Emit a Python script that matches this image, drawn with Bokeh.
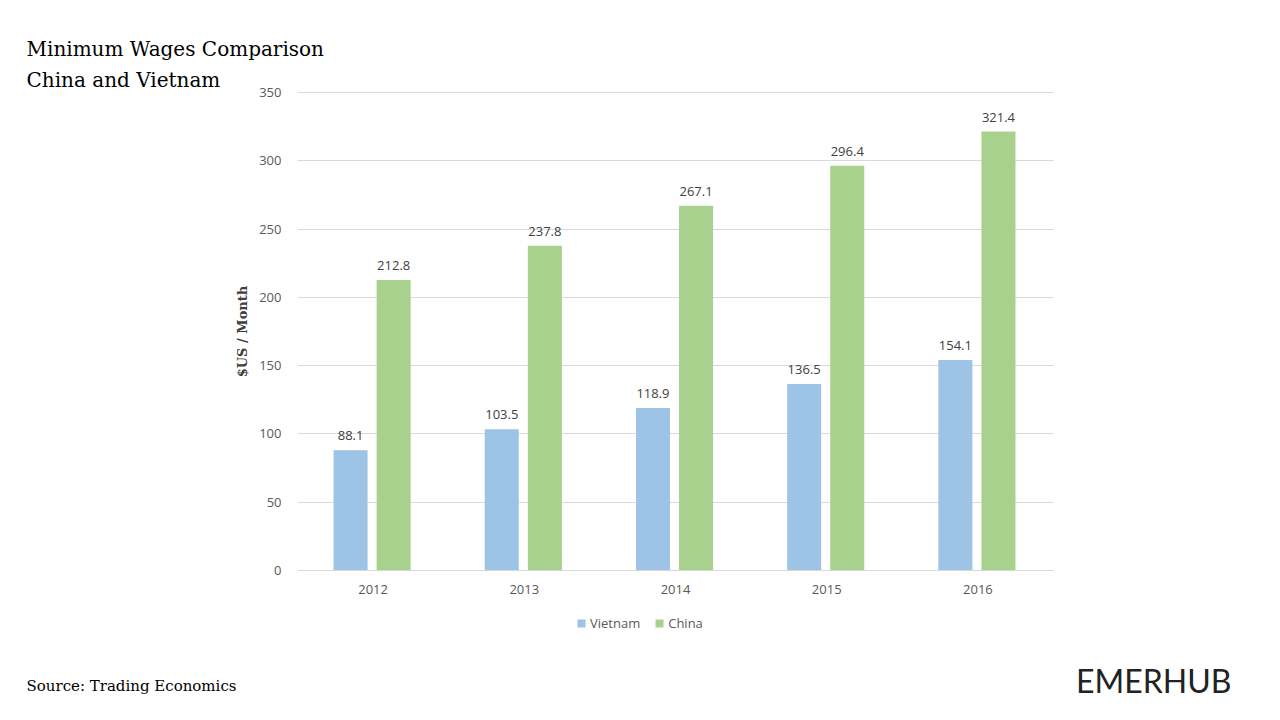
from bokeh.plotting import figure
from bokeh.models import (ColumnDataSource, Range1d, Label, Legend, LegendItem,
                          LinearAxis, FixedTicker, Grid)
from bokeh.core.properties import value
from bokeh.embed import file_html
from bokeh.resources import INLINE

years = ["2012", "2013", "2014", "2015", "2016"]
vietnam = [88.1, 103.5, 118.9, 136.5, 154.1]
china = [212.8, 237.8, 267.1, 296.4, 321.4]
y_ticks = [0, 50, 100, 150, 200, 250, 300, 350]
series_names = ["Vietnam", "China"]
title_lines = ["Minimum Wages Comparison", "China and Vietnam"]
y_label = "$US / Month"
source_text = "Source: Trading Economics"
brand = "EMERHUB"

VN_COLOR = "#9DC3E6"
CN_COLOR = "#A9D18E"
SANS = "Open Sans"
SERIF = "DejaVu Serif"
TICK_COLOR = "#595959"

# canvas geometry: the frame covers the whole canvas, plot area placed via ranges
W, H = 1264, 704
PL, PR, PT, PB = 297, 1053, 92, 570      # plot-area edges on canvas
n = len(years)
ymax = y_ticks[-1]
xs = (PR - PL) / n                      # px per category
ys = (PB - PT) / ymax                   # px per unit
x_range = Range1d(-PL / xs, (W - PL) / xs)
y_range = Range1d(-(H - PB) / ys, PB / ys)

VN_OFF, CN_OFF = -0.149, 0.136
pos = [i + 0.5 for i in range(n)]
src = ColumnDataSource(dict(
    xv=[x + VN_OFF for x in pos], xc=[x + CN_OFF for x in pos],
    vietnam=vietnam, china=china,
    vn_lab=[f"{v:.1f}" for v in vietnam],
    cn_lab=[f"{v:.1f}" for v in china],
))

p = figure(width=W, height=H, x_range=x_range, y_range=y_range,
           output_backend="svg", toolbar_location=None,
           x_axis_location=None, y_axis_location=None,
           min_border=0, min_border_left=0, min_border_right=0,
           min_border_top=0, min_border_bottom=0)
p.outline_line_color = None
p.background_fill_color = "white"
p.border_fill_color = "white"
p.xgrid.visible = False
p.ygrid.visible = False

# y axis (fixed at the plot-area's left edge)
yax = LinearAxis(fixed_location=0, bounds=(0, ymax), ticker=FixedTicker(ticks=y_ticks))
yax.axis_line_color = None
yax.major_tick_line_color = None
yax.minor_tick_line_color = None
yax.major_tick_out = 0
yax.major_tick_in = 0
yax.major_label_standoff = 16
yax.major_label_text_font = SANS
yax.major_label_text_font_size = "13px"
yax.major_label_text_color = TICK_COLOR
p.add_layout(yax, "left")

# x axis (fixed at zero)
xax = LinearAxis(fixed_location=0, bounds=(0, n), ticker=FixedTicker(ticks=pos),
                 major_label_overrides={x: y for x, y in zip(pos, years)})
xax.axis_line_color = "#D9D9D9"
xax.major_tick_line_color = None
xax.minor_tick_line_color = None
xax.major_tick_out = 0
xax.major_tick_in = 0
xax.major_label_standoff = 14
xax.major_label_text_font = SANS
xax.major_label_text_font_size = "13px"
xax.major_label_text_color = TICK_COLOR
p.add_layout(xax, "below")

# horizontal gridlines limited to the plot area
if "cross_bounds" in Grid.properties():
    g = Grid(dimension=1, ticker=FixedTicker(ticks=y_ticks[1:]), bounds=(0, ymax),
             cross_bounds=(0, n), grid_line_color="#D9D9D9", grid_line_width=1)
    p.add_layout(g)
else:
    p.segment(x0=[0] * (len(y_ticks) - 1), x1=[n] * (len(y_ticks) - 1),
              y0=y_ticks[1:], y1=y_ticks[1:], line_color="#D9D9D9", line_width=1)

r_vn = p.vbar(x="xv", top="vietnam", width=0.225, source=src,
              fill_color=VN_COLOR, line_color=None)
r_cn = p.vbar(x="xc", top="china", width=0.225, source=src,
              fill_color=CN_COLOR, line_color=None)

p.text(x="xv", y="vietnam", text="vn_lab", source=src,
       text_align="center", text_baseline="bottom", y_offset=-10,
       text_font=value(SANS), text_font_size="13px", text_color="#404040")
p.text(x="xc", y="china", text="cn_lab", source=src,
       text_align="center", text_baseline="bottom", y_offset=-10,
       text_font=value(SANS), text_font_size="13px", text_color="#404040")

# legend (location = bottom-left corner in screen px)
legend = Legend(items=[LegendItem(label=series_names[0], renderers=[r_vn]),
                       LegendItem(label=series_names[1], renderers=[r_cn])],
                orientation="horizontal", location=(576, H - 632),
                glyph_width=10, glyph_height=10, label_standoff=4, spacing=14,
                label_text_font=SANS, label_text_font_size="13px",
                label_text_color=TICK_COLOR,
                border_line_color=None, background_fill_alpha=0, padding=0, margin=0)
p.add_layout(legend, "center")

def lab(text, cx, cy, **kw):
    # cx, cy: canvas position from the top-left corner
    p.add_layout(Label(x=cx, y=H - cy, x_units="screen", y_units="screen",
                       text=text, **kw))

lab(title_lines[0], 26, 48, text_font=SERIF, text_font_size="20px",
    text_color="#000000", text_baseline="middle")
lab(title_lines[1], 26, 79, text_font=SERIF, text_font_size="20px",
    text_color="#000000", text_baseline="middle")
lab(y_label, 242, 331, text_font=SERIF, text_font_size="13px", text_font_style="bold",
    text_color="#404040", angle=90, angle_units="deg",
    text_align="center", text_baseline="middle")
lab(source_text, 26, 685, text_font=SERIF, text_font_size="15px",
    text_color="#000000", text_baseline="middle")
lab(brand, 1231, 680, text_font="Lato", text_font_size="32px",
    text_color="#222222", text_align="right", text_baseline="middle")

open("out.html", "w").write(file_html(p, INLINE))
